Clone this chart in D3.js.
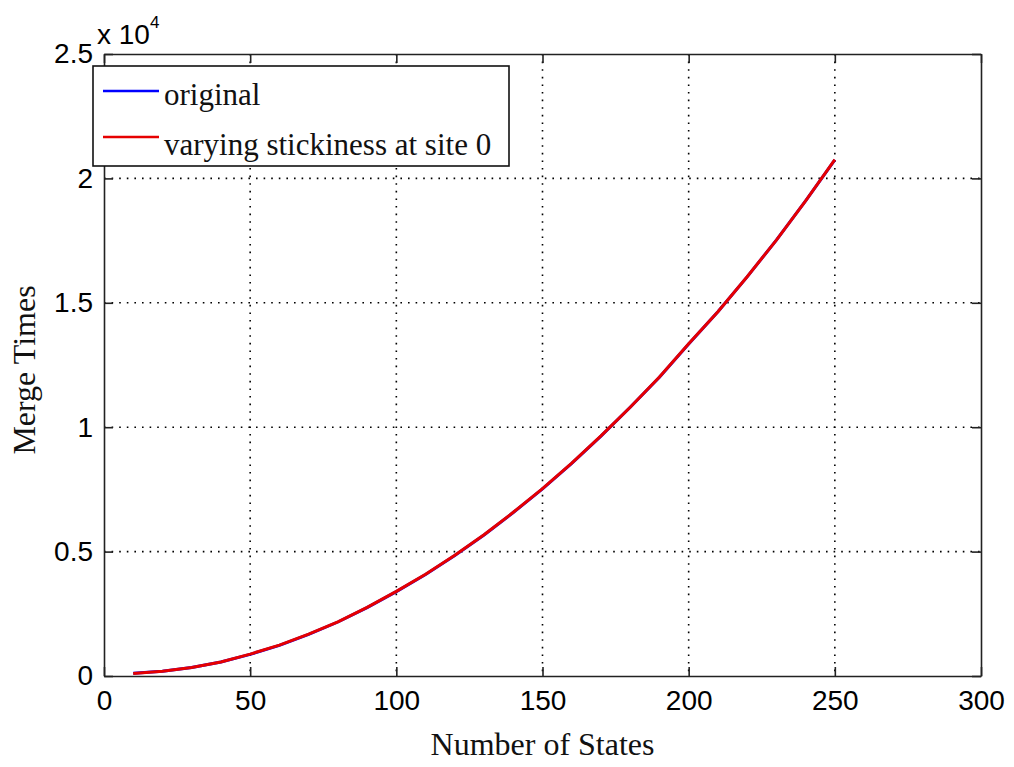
<!DOCTYPE html>
<html>
<head>
<meta charset="utf-8">
<script src="https://cdn.jsdelivr.net/npm/d3@7"></script>
<style>
  body { margin: 0; background: #fff; }
  svg { display: block; }
</style>
</head>
<body>
<svg></svg>
<script>
// values
const states = [10, 20, 30, 40, 50, 60, 70, 80, 90, 100, 110, 120, 130, 140, 150,
                160, 170, 180, 190, 200, 210, 220, 230, 240, 250];
const original = [110, 190, 340, 560, 870, 1230, 1670, 2170, 2750, 3390, 4080, 4840, 5670,
                  6570, 7520, 8550, 9640, 10800, 12010, 13340, 14640, 16040, 17520, 19100, 20740];
const varying = [100, 190, 340, 560, 880, 1240, 1680, 2180, 2760, 3400, 4090, 4850, 5680,
                 6580, 7530, 8560, 9650, 10800, 12020, 13350, 14640, 16050, 17520, 19100, 20750];
const xTicks = [0, 50, 100, 150, 200, 250, 300];
const yTicks = [0, 5000, 10000, 15000, 20000, 25000];
const seriesNames = ["original", "varying stickiness at site 0"];
const seriesColors = ["#0000ff", "#e60000"];

const margin = { top: 54, right: 33, bottom: 91, left: 104 };
const W = 1014, H = 767;
const width = W - margin.left - margin.right;
const height = H - margin.top - margin.bottom;

const svg = d3.select("svg").attr("width", W).attr("height", H);
svg.append("rect").attr("width", W).attr("height", H).attr("fill", "#fff");

const g = svg.append("g").attr("transform", `translate(${margin.left},${margin.top})`);

const x = d3.scaleLinear().domain([0, 300]).range([0, width]);
const y = d3.scaleLinear().domain([0, 25000]).range([height, 0]);

// dotted grid
g.append("g").selectAll("line")
    .data(xTicks.slice(1, -1))
    .enter().append("line")
    .attr("x1", d => x(d)).attr("x2", d => x(d))
    .attr("y1", 0).attr("y2", height)
    .attr("stroke", "#000").attr("stroke-width", 1.6)
    .attr("stroke-dasharray", "1.6,6");
g.append("g").selectAll("line")
    .data(yTicks.slice(1, -1))
    .enter().append("line")
    .attr("x1", 0).attr("x2", width)
    .attr("y1", d => y(d)).attr("y2", d => y(d))
    .attr("stroke", "#000").attr("stroke-width", 1.6)
    .attr("stroke-dasharray", "1.6,6");

// lines
const line = d3.line().x((d, i) => x(states[i])).y(d => y(d));
[original, varying].forEach((vals, k) => {
    g.append("path")
        .datum(vals)
        .attr("fill", "none")
        .attr("stroke", seriesColors[k])
        .attr("stroke-width", 3)
        .attr("d", line);
});

// axes, ticks inward on all four sides
const tickFont = "Liberation Sans, Arial, sans-serif";
g.append("g").attr("transform", `translate(0,${height})`)
    .call(d3.axisBottom(x).tickValues(xTicks).tickSizeInner(-9).tickSizeOuter(0).tickPadding(14));
g.append("g")
    .call(d3.axisLeft(y).tickValues(yTicks).tickSizeInner(-9).tickSizeOuter(0).tickPadding(11)
        .tickFormat(d => d3.format("")(d / 10000)));
g.append("g").call(d3.axisTop(x).tickValues(xTicks).tickSizeInner(-9).tickSizeOuter(0).tickFormat(""));
g.append("g").attr("transform", `translate(${width},0)`)
    .call(d3.axisRight(y).tickValues(yTicks).tickSizeInner(-9).tickSizeOuter(0).tickFormat(""));

g.selectAll(".domain, .tick line").attr("stroke", "#222").attr("stroke-width", 1.6);
g.selectAll(".tick text")
    .attr("font-family", tickFont).attr("font-size", 28).attr("fill", "#000");

// exponent label
const expo = g.append("text").attr("x", -7).attr("y", -10)
    .attr("font-family", tickFont).attr("font-size", 28).attr("fill", "#000");
expo.append("tspan").text("x 10");
expo.append("tspan").attr("dy", -16).attr("font-size", 17).text("4");

// axis titles
const serif = "Liberation Serif, DejaVu Serif, serif";
svg.append("text")
    .attr("x", margin.left + width / 2).attr("y", 755)
    .attr("text-anchor", "middle")
    .attr("font-family", serif).attr("font-size", 32).attr("fill", "#111")
    .text("Number of States");
svg.append("text")
    .attr("transform", `translate(35,370) rotate(-90)`)
    .attr("text-anchor", "middle")
    .attr("font-family", serif).attr("font-size", 32).attr("fill", "#111")
    .text("Merge Times");

// legend
const legend = svg.append("g").attr("transform", "translate(93,66)");
legend.append("rect")
    .attr("width", 416).attr("height", 100)
    .attr("fill", "#fff").attr("stroke", "#111").attr("stroke-width", 1.6);
seriesNames.forEach((name, i) => {
    const yy = 25 + i * 46;
    legend.append("line")
        .attr("x1", 10).attr("x2", 66).attr("y1", yy).attr("y2", yy)
        .attr("stroke", seriesColors[i]).attr("stroke-width", 2.5);
    legend.append("text")
        .attr("x", 71).attr("y", 39 + i * 50)
        .attr("font-family", serif).attr("font-size", 31).attr("fill", "#111")
        .text(name);
});
</script>
</body>
</html>
